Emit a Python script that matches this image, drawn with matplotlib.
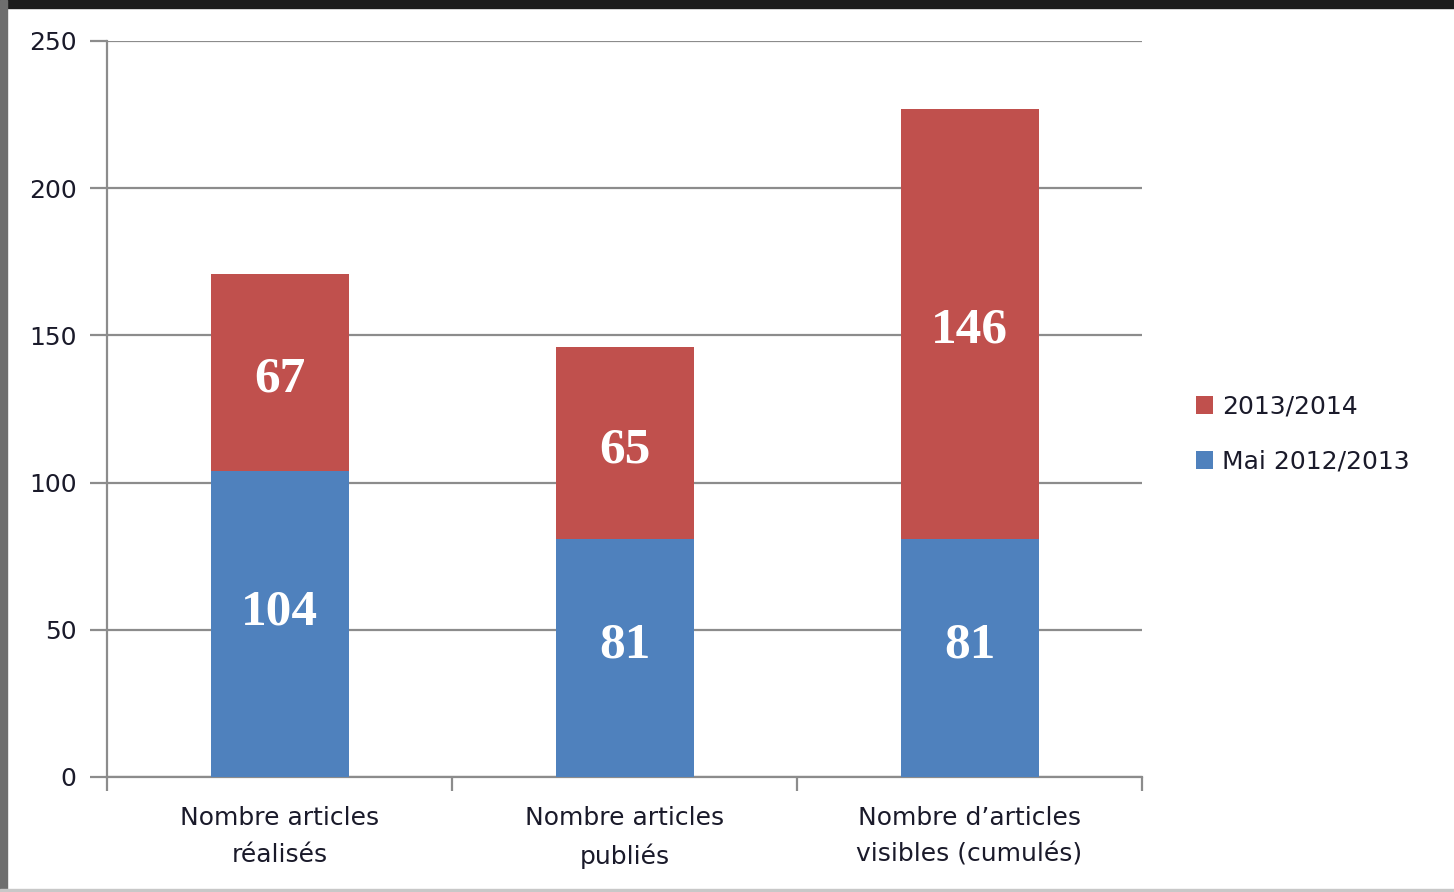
import matplotlib
matplotlib.use("Agg")
import matplotlib.pyplot as plt
import numpy as np
from matplotlib.patches import Rectangle

categories = ["Nombre articles\nréalisés", "Nombre articles\npubliés", "Nombre d\u2019articles\nvisibles (cumulés)"]
series_names = ["Mai 2012/2013", "2013/2014"]
mai_2012_2013 = [104, 81, 81]
y_2013_2014 = [67, 65, 146]
yticks = [0, 50, 100, 150, 200, 250]

blue = "#4F81BD"
red = "#C0504D"
grid_col = "#8c8c8c"
txt_col = "#1a1a2a"
fs = 18

fig = plt.figure(figsize=(14.54, 8.92), dpi=100, facecolor="white")
# frame bands
fig.add_artist(Rectangle((0, 1 - 8/892), 1, 8/892, transform=fig.transFigure, color="#1c1c1c", zorder=0))
fig.add_artist(Rectangle((0, 0), 7/1454, 1, transform=fig.transFigure, color="#6e6e6e", zorder=0))
fig.add_artist(Rectangle((0, 0), 1, 3/892, transform=fig.transFigure, color="#c8c8c8", zorder=0))

ax = fig.add_axes([107/1454, 1 - 777/892, (1142-107)/1454, (777-41)/892])
x = np.arange(len(categories))
w = 0.4
b1 = ax.bar(x, mai_2012_2013, width=w, color=blue, zorder=3, label=series_names[0])
b2 = ax.bar(x, y_2013_2014, width=w, bottom=mai_2012_2013, color=red, zorder=3, label=series_names[1])

for xi, v in zip(x, mai_2012_2013):
    ax.text(xi, v/2 + 4, str(v), ha="center", va="center", color="white",
            fontsize=37, fontweight="bold", family="Liberation Serif", zorder=4)
for xi, base, v in zip(x, mai_2012_2013, y_2013_2014):
    ax.text(xi, base + v/2 - 2.5, str(v), ha="center", va="center", color="white",
            fontsize=37, fontweight="bold", family="Liberation Serif", zorder=4)

ax.set_xlim(-0.5, len(categories) - 0.5)
ax.set_ylim(0, 250)
ax.set_yticks(yticks)
ax.set_yticklabels([str(t) for t in yticks], fontsize=fs, color=txt_col)
ax.yaxis.grid(True, color=grid_col, linewidth=1.6, zorder=1)
ax.set_axisbelow(True)
ax.tick_params(axis="y", length=12, width=1.6, color=grid_col, pad=10)

ax.set_xticks(x)
ax.set_xticklabels(categories, fontsize=fs, color=txt_col, linespacing=1.65)
ax.tick_params(axis="x", which="major", length=0, pad=21)
ax.set_xticks([-0.5, 0.5, 1.5, 2.5], minor=True)
ax.tick_params(axis="x", which="minor", length=10, width=1.6, color=grid_col)

for s in ["top", "right"]:
    ax.spines[s].set_visible(False)
for s in ["left", "bottom"]:
    ax.spines[s].set_color(grid_col)
    ax.spines[s].set_linewidth(1.6)

handles = [b2, b1]
leg = fig.legend(handles, [series_names[1], series_names[0]], loc="upper left",
                 bbox_to_anchor=(1173/1454, 1 - 372/892), frameon=False, fontsize=fs,
                 handlelength=0.7, handleheight=0.7, handletextpad=0.35, labelspacing=1.25)
for t in leg.get_texts():
    t.set_color(txt_col)

fig.savefig("out.png", dpi=100, facecolor="white")
